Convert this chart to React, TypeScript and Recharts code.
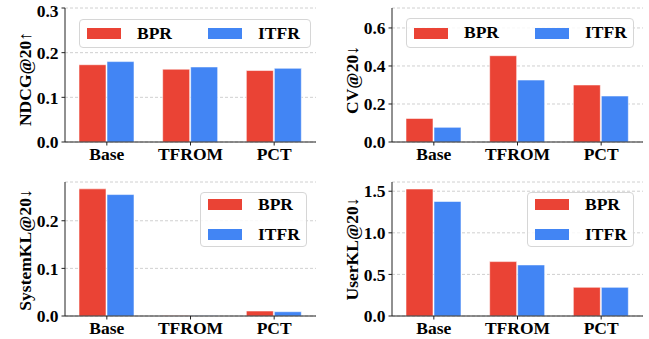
import React from 'react';
import { BarChart, Bar, XAxis, YAxis, CartesianGrid, Legend } from 'recharts';

const categories = ['Base', 'TFROM', 'PCT'];
const seriesNames = ['BPR', 'ITFR'];
const seriesColors = ['#EA4335', '#4285F4'];

const ndcgBPR = [0.173, 0.163, 0.160];
const ndcgITFR = [0.180, 0.168, 0.165];
const cvBPR = [0.124, 0.454, 0.300];
const cvITFR = [0.077, 0.326, 0.242];
const systemKLBPR = [0.267, 0.0006, 0.0105];
const systemKLITFR = [0.255, 0.0005, 0.009];
const userKLBPR = [1.527, 0.654, 0.345];
const userKLITFR = [1.377, 0.614, 0.345];

const ndcgTicks = [0, 0.1, 0.2, 0.3];
const cvTicks = [0, 0.2, 0.4, 0.6];
const systemKLTicks = [0, 0.1, 0.2];
const userKLTicks = [0, 0.5, 1.0, 1.5];

const FONT = '"Liberation Serif", "Times New Roman", serif';
const AXIS_COLOR = '#222';

const build = (a: number[], b: number[]) =>
  categories.map((name, i) => ({ name, bpr: a[i], itfr: b[i] }));

const AxisTitle = (props: any) => {
  const vb = props.viewBox || { x: 0, y: 0, width: 0, height: 0 };
  const bx = vb.x + 10.5;
  const cy = vb.y + vb.height / 2 + (props.shift || 0);
  return (
    <text
      x={bx}
      y={cy}
      transform={`rotate(-90 ${bx} ${cy})`}
      textAnchor="middle"
      fontFamily={FONT}
      fontWeight="bold"
      fontSize={17.5}
      fill="#000"
    >
      {props.text}
    </text>
  );
};

const makeLegend = (vertical: boolean, box: { left: number; top: number; width: number; height: number }) =>
  (props: any) => {
    const payload = (props.payload || []) as any[];
    return (
      <div
        style={{
          position: 'absolute',
          left: box.left,
          top: box.top,
          width: box.width,
          height: box.height,
          boxSizing: 'border-box',
          border: '1px solid #d6d6d6',
          borderRadius: 4,
          background: 'rgba(255,255,255,0.85)',
          display: 'flex',
          flexDirection: vertical ? 'column' : 'row',
          justifyContent: vertical ? 'center' : 'flex-start',
          alignItems: vertical ? 'flex-start' : 'center',
          paddingLeft: 7,
          gap: vertical ? 13 : 36,
          fontFamily: FONT,
          fontWeight: 'bold',
          fontSize: 17.5,
          color: '#000',
          lineHeight: 1,
        }}
      >
        {payload.map((p: any) => (
          <div key={p.value} style={{ display: 'flex', alignItems: 'center' }}>
            <div style={{ width: 34, height: 11, background: p.color, marginRight: 16 }} />
            <span style={{ fontFamily: FONT }}>{p.value}</span>
          </div>
        ))}
      </div>
    );
  };

type PanelProps = {
  data: any[];
  ticks: number[];
  domain: [number, number];
  title: string;
  titleShift: number;
  left: number;
  top: number;
  width: number;
  height: number;
  margin: { top: number; right: number; bottom: number; left: number };
  legendVertical: boolean;
  legendBox: { left: number; top: number; width: number; height: number };
};

const tickStyle = { fontFamily: FONT, fontWeight: 'bold' as const, fontSize: 17.5, fill: '#000' };

const Panel = (p: PanelProps) => (
  <div style={{ position: 'absolute', left: p.left, top: p.top, width: p.width, height: p.height, fontFamily: FONT }}>
    <BarChart
      width={p.width}
      height={p.height}
      data={p.data}
      margin={p.margin}
      barSize={27}
      barGap={1}
      style={{ fontFamily: FONT }}
    >
      <CartesianGrid vertical={false} strokeDasharray="3 2" stroke="#c4c4c4" strokeWidth={0.8} />
      <XAxis
        dataKey="name"
        height={22}
        tick={tickStyle}
        tickSize={3.5}
        tickMargin={2}
        tickLine={{ stroke: AXIS_COLOR }}
        axisLine={{ stroke: AXIS_COLOR, strokeWidth: 1 }}
        interval={0}
      />
      <XAxis
        xAxisId="top"
        orientation="top"
        dataKey="name"
        height={0}
        tick={false}
        tickLine={false}
        axisLine={{ stroke: '#333', strokeWidth: 1 }}
      />
      <YAxis
        width={45}
        domain={p.domain}
        ticks={p.ticks}
        allowDataOverflow
        tick={tickStyle}
        tickSize={3.5}
        tickMargin={3}
        tickLine={{ stroke: AXIS_COLOR }}
        axisLine={{ stroke: AXIS_COLOR, strokeWidth: 1 }}
        tickFormatter={(v: number) => v.toFixed(1)}
        label={<AxisTitle text={p.title} shift={p.titleShift} />}
      />
      <YAxis
        yAxisId="right"
        orientation="right"
        width={0}
        domain={[0, 1]}
        tick={false}
        tickLine={false}
        axisLine={{ stroke: '#333', strokeWidth: 1 }}
      />
      <Legend
        layout="horizontal"
        verticalAlign="middle"
        align="center"
        wrapperStyle={{ position: 'absolute', left: 0, top: 0, width: 0, height: 0 }}
        content={makeLegend(p.legendVertical, p.legendBox)}
      />
      <Bar
        dataKey="bpr"
        name={seriesNames[0]}
        fill={seriesColors[0]}
        stroke="#ffffff"
        strokeOpacity={0.55}
        strokeWidth={1}
        isAnimationActive={false}
      />
      <Bar
        dataKey="itfr"
        name={seriesNames[1]}
        fill={seriesColors[1]}
        stroke="#ffffff"
        strokeOpacity={0.55}
        strokeWidth={1}
        isAnimationActive={false}
      />
    </BarChart>
  </div>
);

export default function App() {
  return (
    <div style={{ position: 'absolute', left: 0, top: 0, width: 649, height: 339, background: '#fff', fontFamily: FONT }}>
      <Panel
        data={build(ndcgBPR, ndcgITFR)}
        ticks={ndcgTicks}
        domain={[0, 0.3]}
        title="NDCG@20↑"
        titleShift={4}
        left={0}
        top={0}
        width={325}
        height={170}
        margin={{ top: 8, right: 9, bottom: 6, left: 20 }}
        legendVertical={false}
        legendBox={{ left: 79, top: 19, width: 232, height: 29 }}
      />
      <Panel
        data={build(cvBPR, cvITFR)}
        ticks={cvTicks}
        domain={[0, 0.705]}
        title="CV@20↓"
        titleShift={5}
        left={325}
        top={0}
        width={324}
        height={170}
        margin={{ top: 8, right: 6, bottom: 6, left: 22 }}
        legendVertical={false}
        legendBox={{ left: 81, top: 18, width: 228, height: 30 }}
      />
      <Panel
        data={build(systemKLBPR, systemKLITFR)}
        ticks={systemKLTicks}
        domain={[0, 0.2814]}
        title="SystemKL@20↓"
        titleShift={1}
        left={0}
        top={170}
        width={325}
        height={169}
        margin={{ top: 12, right: 9, bottom: 1, left: 20 }}
        legendVertical={true}
        legendBox={{ left: 200, top: 22, width: 107, height: 55 }}
      />
      <Panel
        data={build(userKLBPR, userKLITFR)}
        ticks={userKLTicks}
        domain={[0, 1.611]}
        title="UserKL@20↓"
        titleShift={0}
        left={325}
        top={170}
        width={324}
        height={169}
        margin={{ top: 12, right: 6, bottom: 1, left: 22 }}
        legendVertical={true}
        legendBox={{ left: 202, top: 22, width: 107, height: 55 }}
      />
    </div>
  );
}
